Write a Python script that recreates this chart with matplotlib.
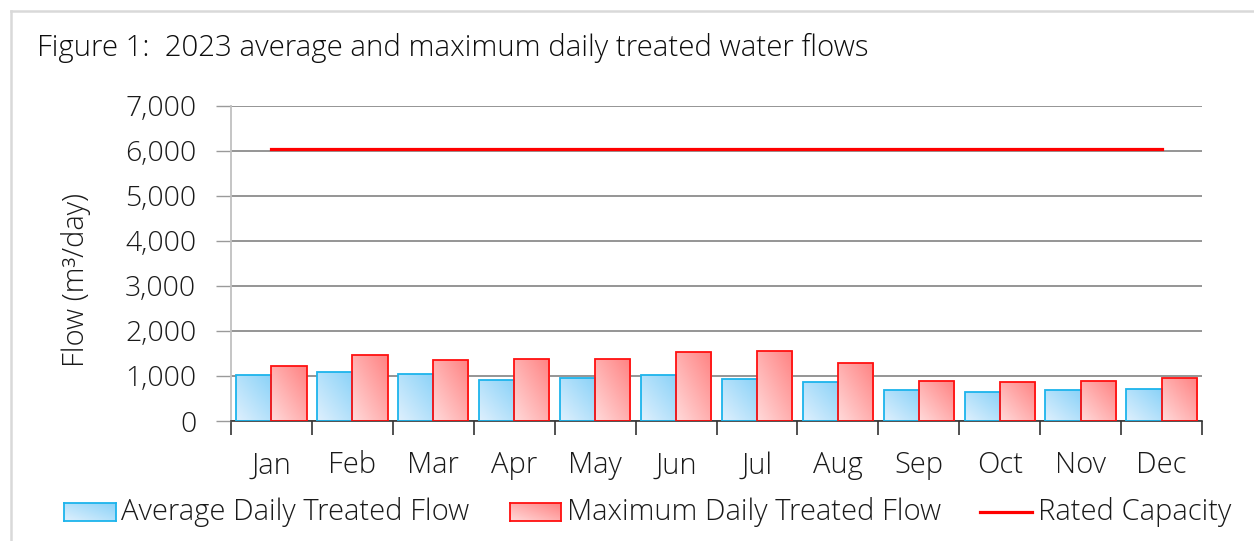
import numpy as np
import matplotlib
matplotlib.use("Agg")
import matplotlib.pyplot as plt
from matplotlib.lines import Line2D
from matplotlib.colors import LinearSegmentedColormap

plt.rcParams['font.family'] = ['Open Sans', 'DejaVu Sans']
plt.rcParams['font.weight'] = 'light'

months = ['Jan', 'Feb', 'Mar', 'Apr', 'May', 'Jun', 'Jul', 'Aug', 'Sep', 'Oct', 'Nov', 'Dec']
avg_flow = [1015, 1082, 1052, 904, 955, 1015, 933, 867, 681, 644, 681, 704]
max_flow = [1215, 1467, 1348, 1378, 1370, 1526, 1555, 1289, 881, 867, 881, 955]
rated_capacity = [6045] * 12
series_names = ['Average Daily Treated Flow', 'Maximum Daily Treated Flow', 'Rated Capacity']
title = 'Figure 1:  2023 average and maximum daily treated water flows'
ylabel = 'Flow (m\u00b3/day)'
yticks = [0, 1000, 2000, 3000, 4000, 5000, 6000, 7000]

W, H = 1254, 541
fig = plt.figure(figsize=(W / 100, H / 100), dpi=100)
ax = fig.add_axes([231 / W, 1 - 421 / H, (1202 - 231) / W, (421 - 106) / H])

blue_cmap = LinearSegmentedColormap.from_list('b', ['#dff0fd', '#8ad2f8'])
red_cmap = LinearSegmentedColormap.from_list('r', ['#ffdada', '#ff8282'])
grad = np.add.outer(np.linspace(0, 1, 64), np.linspace(0, 1, 64)) / 2.0  # rows=y, cols=x

x = np.arange(len(months))
bw = 0.435
for vals, off, cmap, ec in [(avg_flow, -bw / 2, blue_cmap, '#1cb4ec'),
                            (max_flow, bw / 2, red_cmap, '#ff1010')]:
    bars = ax.bar(x + off, vals, width=bw, facecolor='none', edgecolor=ec, linewidth=1.3, zorder=3)
    for b in bars:
        x0, w, h = b.get_x(), b.get_width(), b.get_height()
        im = ax.imshow(grad, cmap=cmap, origin='lower', extent=(x0, x0 + w, 0, h),
                       aspect='auto', zorder=2, interpolation='bilinear')
        im.set_clip_path(b)

ax.plot(x, rated_capacity, color='#ff0000', linewidth=2.3, zorder=4)

ax.set_xlim(-0.5, len(months) - 0.5)
ax.set_ylim(0, 7000)
ax.set_yticks(yticks)
ax.set_yticklabels([f'{v:,}' for v in yticks], fontsize=20.5, color='#1a1a1a')
ax.yaxis.grid(True, color='#8c8c8c', linewidth=1.3, zorder=0)
ax.set_axisbelow(True)
ax.tick_params(axis='y', length=11, width=1, color='#9a9a9a', pad=14)

ax.set_xticks(np.arange(len(months) + 1) - 0.5)
ax.set_xticklabels([])
ax.tick_params(axis='x', which='major', length=10, width=1.2, color='#333333')
ax.set_xticks(x, minor=True)
ax.set_xticklabels(months, minor=True, fontsize=21, color='#1a1a1a')
ax.tick_params(axis='x', which='minor', length=0, pad=21.5)

for s in ['top', 'right']:
    ax.spines[s].set_visible(False)
ax.spines['left'].set_color('#c0c0c0')
ax.spines['left'].set_linewidth(1.3)
ax.spines['bottom'].set_color('#333333')
ax.spines['bottom'].set_linewidth(1.2)

fig.text(37 / W, 1 - 48 / H, title, fontsize=21.2, ha='left', va='center', color='#0d0d0d')
fig.text(76 / W, 1 - 280 / H, ylabel, fontsize=21, rotation=90, ha='center', va='center', color='#1a1a1a')

# frame (left/top)
fig.add_artist(Line2D([11 / W, 11 / W], [0, 1 - 11 / H], transform=fig.transFigure, color='#d9d9d9', linewidth=1.8))
fig.add_artist(Line2D([11 / W, 1], [1 - 11 / H, 1 - 11 / H], transform=fig.transFigure, color='#d9d9d9', linewidth=1.8))

# legend
ly = 512
for (px0, px1, cmap, ec, tx, name) in [(64, 116, blue_cmap, '#1cb4ec', 121, series_names[0]),
                                       (510, 561, red_cmap, '#ff1010', 567, series_names[1])]:
    lax = fig.add_axes([px0 / W, 1 - (ly + 9) / H, (px1 - px0) / W, 18 / H])
    lax.imshow(grad, cmap=cmap, origin='lower', extent=(0, 1, 0, 1), aspect='auto', interpolation='bilinear')
    lax.set_xticks([]); lax.set_yticks([])
    for s in lax.spines.values():
        s.set_color(ec); s.set_linewidth(1.3)
    fig.text(tx / W, 1 - ly / H, name, fontsize=21, ha='left', va='center', color='#1a1a1a')
fig.add_artist(Line2D([980 / W, 1032 / W], [1 - ly / H, 1 - ly / H], transform=fig.transFigure,
                      color='#ff0000', linewidth=2.3))
fig.text(1038 / W, 1 - ly / H, series_names[2], fontsize=21, ha='left', va='center', color='#1a1a1a')

fig.savefig('out.png', dpi=100)
